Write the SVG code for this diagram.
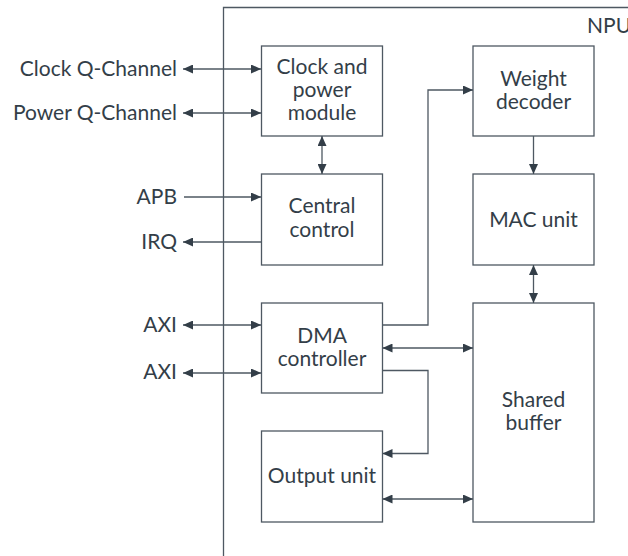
<svg xmlns="http://www.w3.org/2000/svg" width="628" height="556" viewBox="0 0 628 556">
<defs>
<style>
.box{fill:#ffffff;stroke:#4e5862;stroke-width:1.3}
.ln{fill:none;stroke:#4e5862;stroke-width:1.3}
text{font-family:Lato,"Open Sans","Liberation Sans",sans-serif;font-size:21px;fill:#333e48}
.c{text-anchor:middle}
.r{text-anchor:end}
</style>
<marker id="ah" viewBox="0 0 10 9" refX="10" refY="4.5" markerWidth="10" markerHeight="9" markerUnits="userSpaceOnUse" orient="auto-start-reverse">
<path d="M0,0 L10,4.5 L0,9 Z" fill="#333e48"/>
</marker>
</defs>
<rect width="628" height="556" fill="#ffffff"/>
<g id="npu">
<path class="ln" d="M628,7.5 H223.5 V556"/>
<text x="587" y="33">NPU</text>
</g>
<g id="clock_power">
<rect class="box" x="261.5" y="46" width="121" height="90"/>
<text class="c" x="322" y="74">Clock and</text>
<text class="c" x="322" y="97">power</text>
<text class="c" x="322" y="120">module</text>
</g>
<g id="central_control">
<rect class="box" x="261.5" y="174" width="121" height="91"/>
<text class="c" x="322" y="213">Central</text>
<text class="c" x="322" y="237">control</text>
</g>
<g id="dma_controller">
<rect class="box" x="261.5" y="303" width="121" height="90"/>
<text class="c" x="322" y="343">DMA</text>
<text class="c" x="322" y="366">controller</text>
</g>
<g id="output_unit">
<rect class="box" x="261.5" y="431" width="121" height="91"/>
<text class="c" x="322" y="483">Output unit</text>
</g>
<g id="weight_decoder">
<rect class="box" x="473" y="46" width="121" height="90"/>
<text class="c" x="533.5" y="86">Weight</text>
<text class="c" x="533.5" y="109">decoder</text>
</g>
<g id="mac_unit">
<rect class="box" x="473" y="174" width="121" height="91"/>
<text class="c" x="533.5" y="227">MAC unit</text>
</g>
<g id="shared_buffer">
<rect class="box" x="473" y="303" width="121" height="219"/>
<text class="c" x="533.5" y="407">Shared</text>
<text class="c" x="533.5" y="430">buffer</text>
</g>
<g id="labels">
<text class="r" x="177" y="75.5">Clock Q-Channel</text>
<text class="r" x="177" y="119.5">Power Q-Channel</text>
<text class="r" x="177" y="203.5">APB</text>
<text class="r" x="177" y="248.5">IRQ</text>
<text class="r" x="177" y="331.5">AXI</text>
<text class="r" x="177" y="379">AXI</text>
</g>
<g id="connectors">
<path class="ln" d="M183,69 H261" marker-start="url(#ah)" marker-end="url(#ah)"/>
<path class="ln" d="M183,113 H261" marker-start="url(#ah)" marker-end="url(#ah)"/>
<path class="ln" d="M184,197 H261" marker-end="url(#ah)"/>
<path class="ln" d="M261,242 H183" marker-end="url(#ah)"/>
<path class="ln" d="M183,325 H261" marker-start="url(#ah)" marker-end="url(#ah)"/>
<path class="ln" d="M183,373 H261" marker-start="url(#ah)" marker-end="url(#ah)"/>
<path class="ln" d="M322,136 V174" marker-start="url(#ah)" marker-end="url(#ah)"/>
<path class="ln" d="M533.5,136 V174" marker-end="url(#ah)"/>
<path class="ln" d="M533.5,265 V303" marker-start="url(#ah)" marker-end="url(#ah)"/>
<path class="ln" d="M382.5,325 H428 V90 H473" marker-end="url(#ah)"/>
<path class="ln" d="M382.5,348 H473" marker-start="url(#ah)" marker-end="url(#ah)"/>
<path class="ln" d="M382.5,370.5 H428 V453.5 H382.5" marker-end="url(#ah)"/>
<path class="ln" d="M382.5,499 H473" marker-start="url(#ah)" marker-end="url(#ah)"/>
</g>
</svg>
